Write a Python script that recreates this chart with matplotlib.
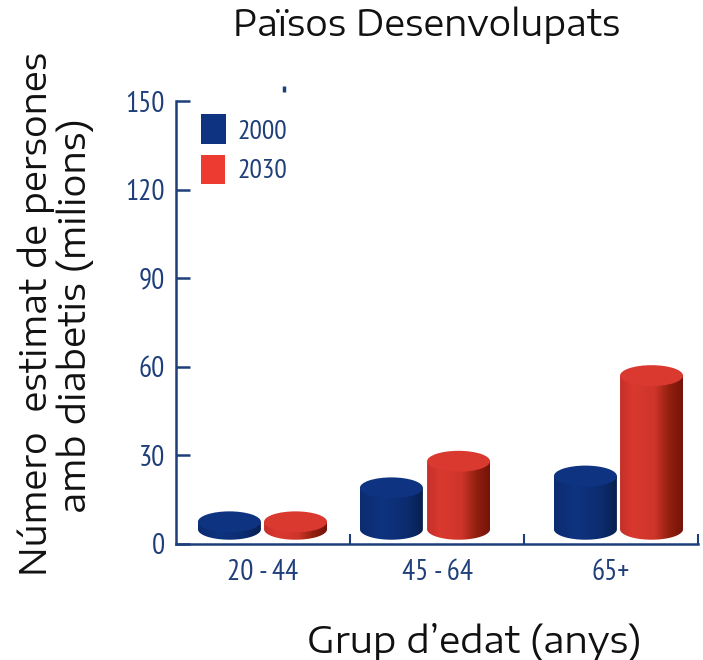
import numpy as np
import matplotlib.pyplot as plt
from matplotlib.colors import LinearSegmentedColormap
from matplotlib.patches import Ellipse, PathPatch, Rectangle
from matplotlib.path import Path

# Diabetes estimate per age group, developed countries

groups = ['20 - 44', '45 - 64', '65+']
years = ['2000', '2030']
values_2000 = [7.5, 19, 23]
values_2030 = [7.5, 28, 57]
yticks = [0, 30, 60, 90, 120, 150]

BLUE = '#0e3380'
RED = '#d9392e'
AXIS = '#1f3f7a'
LABEL_FONT = ['PT Sans Narrow', 'Liberation Sans', 'DejaVu Sans']
TITLE_FONT = ['Encode Sans Expanded', 'DejaVu Sans']

blue_cmap = LinearSegmentedColormap.from_list(
    'b', [(0, '#0c2c70'), (0.35, '#0e3380'), (0.75, '#0c2c70'), (1, '#08204f')])
red_cmap = LinearSegmentedColormap.from_list(
    'r', [(0, '#c5302a'), (0.2, '#d9392e'), (0.55, '#cf352a'), (0.78, '#93200f'), (1, '#74130a')])


def cylinder(ax, xc, top, cmap, color, base=5.0, width=0.362, ell=7.1):
    t = np.linspace(0, np.pi, 60)
    xs = xc - np.cos(t)*width/2
    # body is the lower half of the base ellipse and then straight up to the top
    lower = base - np.sin(t)*ell/2
    verts = list(zip(xs, lower)) + [(xc + width/2, top), (xc - width/2, top), (xc - width/2, base)]
    codes = [Path.MOVETO] + [Path.LINETO]*(len(verts) - 2) + [Path.CLOSEPOLY]
    body = PathPatch(Path(verts, codes), fc='none', ec='none')
    ax.add_patch(body)
    im = ax.imshow(np.linspace(0, 1, 128).reshape(1, -1), cmap=cmap, aspect='auto', zorder=2,
                   extent=(xc - width/2, xc + width/2, base - ell/2, top))
    im.set_clip_path(body)
    ax.add_patch(Ellipse((xc, top), width, ell, fc=color, ec='none', zorder=3))


fig = plt.figure(figsize=(7.03, 6.6), dpi=100)
ax = fig.add_axes([176/703, (660 - 544)/660, 522/703, 443/660])

blue_x = [0.307, 1.238, 2.353]
red_x = [0.687, 1.624, 2.733]
for i in range(3):
    cylinder(ax, blue_x[i], values_2000[i], blue_cmap, BLUE)
    cylinder(ax, red_x[i], values_2030[i], red_cmap, RED)

ax.set_xlim(0, 3)
ax.set_ylim(0, 150)
ax.spines['top'].set_visible(False)
ax.spines['right'].set_visible(False)
ax.spines['left'].set_color(AXIS)
ax.spines['bottom'].set_color(AXIS)
ax.spines['left'].set_linewidth(1.8)
ax.spines['bottom'].set_linewidth(1.8)

ax.set_yticks(yticks)
ax.set_yticklabels(yticks, fontsize=21, color=AXIS, family=LABEL_FONT)
ax.tick_params(axis='y', direction='in', length=10, width=1.8, color=AXIS, pad=8)
ax.set_xticks([1, 2, 3])
ax.set_xticklabels([])
ax.tick_params(axis='x', direction='in', length=7, width=1.5, color=AXIS)
for i, g in enumerate(groups):
    ax.text(i + 0.5, -5, g, ha='center', va='top', fontsize=21, color=AXIS, family=LABEL_FONT)

# legend squares
ax.add_patch(Rectangle((0.144, 135.5), 0.144, 10, fc=BLUE, ec='none'))
ax.add_patch(Rectangle((0.144, 122), 0.138, 9.8, fc='#ee3b32', ec='none'))
ax.text(0.356, 139.4, years[0], va='center', fontsize=20, color=AXIS, family=LABEL_FONT)
ax.text(0.356, 126.2, years[1], va='center', fontsize=20, color=AXIS, family=LABEL_FONT)

# stray tick at the top of the original
ax.plot([0.622, 0.622], [153, 155], color=AXIS, lw=2.5, clip_on=False, solid_capstyle='butt')

fig.text(427/703, 1 - 25/660, 'Països Desenvolupats', ha='center', va='center', fontsize=25.5,
         color='#111111', family=TITLE_FONT)
fig.text(474/703, 1 - 642/660, 'Grup d’edat (anys)', ha='center', va='center', fontsize=26,
         color='#111111', family=TITLE_FONT)
fig.text(36/703, 1 - 314/660, 'Número  estimat de persones', rotation=90, ha='center', va='center',
         fontsize=25.7, color='#111111', family=TITLE_FONT)
fig.text(75/703, 1 - 316/660, 'amb diabetis (milions)', rotation=90, ha='center', va='center',
         fontsize=26, color='#111111', family=TITLE_FONT)

fig.savefig('out.png', dpi=100)
